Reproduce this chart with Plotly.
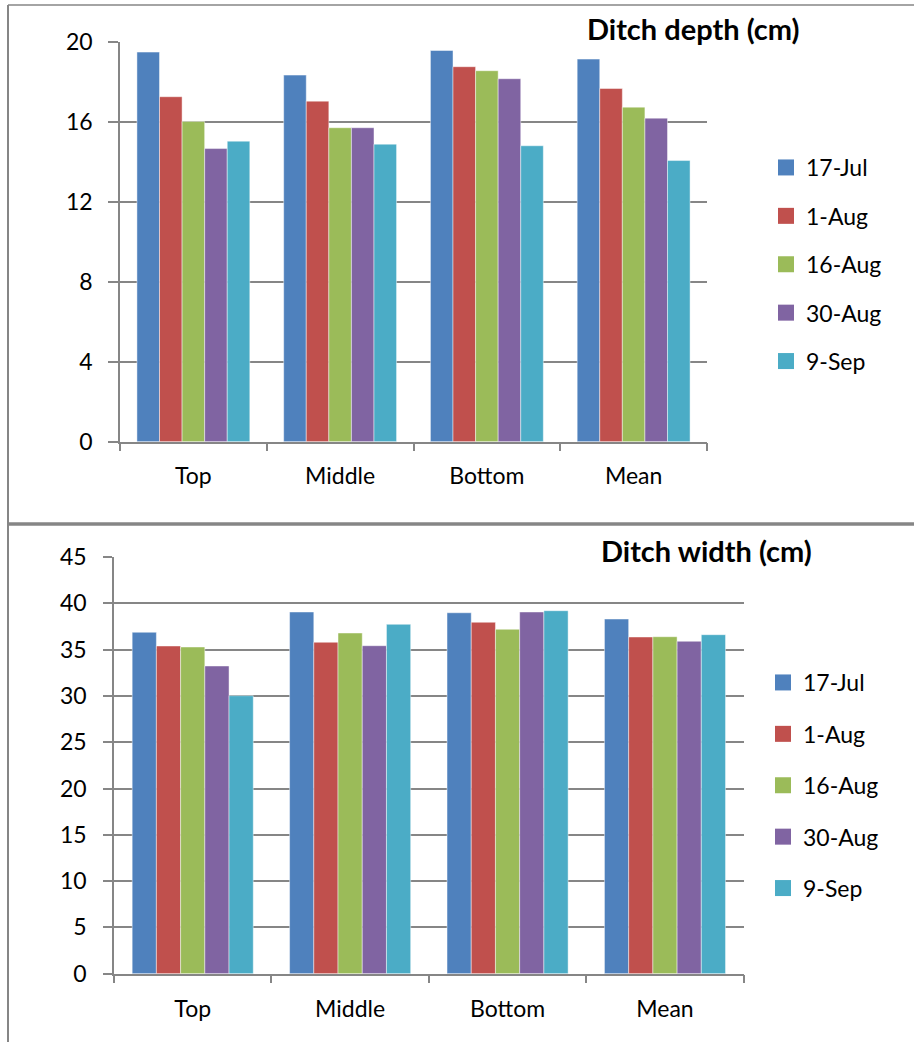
import plotly.graph_objects as go

# Sampling positions along the ditch and survey dates
positions = ["Top", "Middle", "Bottom", "Mean"]
dates = ["17-Jul", "1-Aug", "16-Aug", "30-Aug", "9-Sep"]
colors = ["#4F81BD", "#C0504D", "#9BBB59", "#8064A2", "#4BACC6"]

# Ditch depth (cm), one list per survey date: Top, Middle, Bottom, Mean
depth_17jul = [19.47, 18.32, 19.55, 19.12]
depth_1aug = [17.24, 17.02, 18.74, 17.65]
depth_16aug = [16.0, 15.69, 18.54, 16.72]
depth_30aug = [14.65, 15.69, 18.14, 16.17]
depth_9sep = [15.02, 14.87, 14.79, 14.05]

# Ditch width (cm), one list per survey date: Top, Middle, Bottom, Mean
width_17jul = [36.87, 39.06, 38.98, 38.30]
width_1aug = [35.39, 35.79, 37.95, 36.36]
width_16aug = [35.28, 36.79, 37.19, 36.39]
width_30aug = [33.23, 35.42, 39.06, 35.90]
width_9sep = [30.02, 37.73, 39.20, 36.61]

depth_series = [depth_17jul, depth_1aug, depth_16aug, depth_30aug, depth_9sep]
width_series = [width_17jul, width_1aug, width_16aug, width_30aug, width_9sep]

W, H = 914, 1042
FONT = "Lato, 'Open Sans', sans-serif"
GRID = "#868686"


def px_x(p):
    return p / W


def px_y(p):
    return 1 - p / H


fig = go.Figure()

for i, (name, col) in enumerate(zip(dates, colors)):
    fig.add_trace(go.Bar(
        x=positions, y=depth_series[i], name=name, marker_color=col,
        marker_line=dict(color="rgba(255,255,255,0.45)", width=1),
        xaxis="x", yaxis="y", showlegend=False))
    fig.add_trace(go.Bar(
        x=positions, y=width_series[i], name=name, marker_color=col,
        marker_line=dict(color="rgba(255,255,255,0.45)", width=1),
        xaxis="x2", yaxis="y2", showlegend=False))

# legend swatches (square markers, no plotted points)
for i, (name, col) in enumerate(zip(dates, colors)):
    fig.add_trace(go.Scatter(
        x=[None], y=[None], mode="markers", name=name,
        marker=dict(symbol="square", size=16, color=col),
        xaxis="x", yaxis="y", legend="legend", legendgroup="a" + name))
    fig.add_trace(go.Scatter(
        x=[None], y=[None], mode="markers", name=name,
        marker=dict(symbol="square", size=16, color=col),
        xaxis="x2", yaxis="y2", legend="legend2", legendgroup="b" + name))

axis_common = dict(
    showline=True, linecolor=GRID, linewidth=1.5,
    ticks="outside", tickcolor=GRID, tickwidth=1.5,
    tickfont=dict(family=FONT, size=23, color="#000000"),
    fixedrange=True, automargin=False,
)

fig.update_layout(
    template="none",
    width=W, height=H,
    margin=dict(l=0, r=0, t=0, b=0, pad=0, autoexpand=False),
    paper_bgcolor="white", plot_bgcolor="white",
    barmode="group", bargap=0.2308, bargroupgap=0,
    font=dict(family=FONT, size=23, color="#000000"),
    xaxis=dict(domain=[px_x(120), px_x(707)], anchor="y",
               tickson="boundaries", ticklen=8, showgrid=False,
               ticklabelstandoff=13, **axis_common),
    yaxis=dict(domain=[px_y(441.7), px_y(41.5)], anchor="x",
               range=[0, 20], dtick=4, ticklen=10,
               showgrid=True, gridcolor=GRID, gridwidth=1.5,
               zeroline=False, ticklabelstandoff=11, **axis_common),
    xaxis2=dict(domain=[px_x(114), px_x(743.7)], anchor="y2",
                tickson="boundaries", ticklen=8, showgrid=False,
                ticklabelstandoff=14, **axis_common),
    yaxis2=dict(domain=[px_y(973.7), px_y(557)], anchor="x2",
                range=[0, 45], dtick=5, ticklen=9,
                showgrid=True, gridcolor=GRID, gridwidth=1.5,
                zeroline=False, ticklabelstandoff=12, **axis_common),
    legend=dict(x=px_x(766), y=px_y(146), xanchor="left", yanchor="top",
                font=dict(family=FONT, size=23, color="#000000"),
                traceorder="grouped", tracegroupgap=15.5,
                bgcolor="rgba(0,0,0,0)", itemclick=False),
    legend2=dict(x=px_x(763), y=px_y(661), xanchor="left", yanchor="top",
                 font=dict(family=FONT, size=23, color="#000000"),
                 traceorder="grouped", tracegroupgap=18.5,
                 bgcolor="rgba(0,0,0,0)", itemclick=False),
    annotations=[
        dict(text="<b>Ditch depth (cm)</b>", x=px_x(693), y=px_y(29),
             xref="paper", yref="paper", showarrow=False,
             xanchor="center", yanchor="middle",
             font=dict(family=FONT, size=29, color="#000000")),
        dict(text="<b>Ditch width (cm)</b>", x=px_x(706), y=px_y(550),
             xref="paper", yref="paper", showarrow=False,
             xanchor="center", yanchor="middle",
             font=dict(family=FONT, size=29, color="#000000")),
    ],
    shapes=[
        # chart frames
        dict(type="line", xref="paper", yref="paper",
             x0=px_x(8), x1=1, y0=px_y(5), y1=px_y(5),
             line=dict(color=GRID, width=1.5)),
        dict(type="line", xref="paper", yref="paper",
             x0=px_x(8), x1=px_x(8), y0=px_y(5), y1=0,
             line=dict(color=GRID, width=2)),
        dict(type="line", xref="paper", yref="paper",
             x0=px_x(8), x1=1, y0=px_y(524), y1=px_y(524),
             line=dict(color=GRID, width=3.5)),
    ],
    showlegend=True,
)

fig.write_html("out.html")
